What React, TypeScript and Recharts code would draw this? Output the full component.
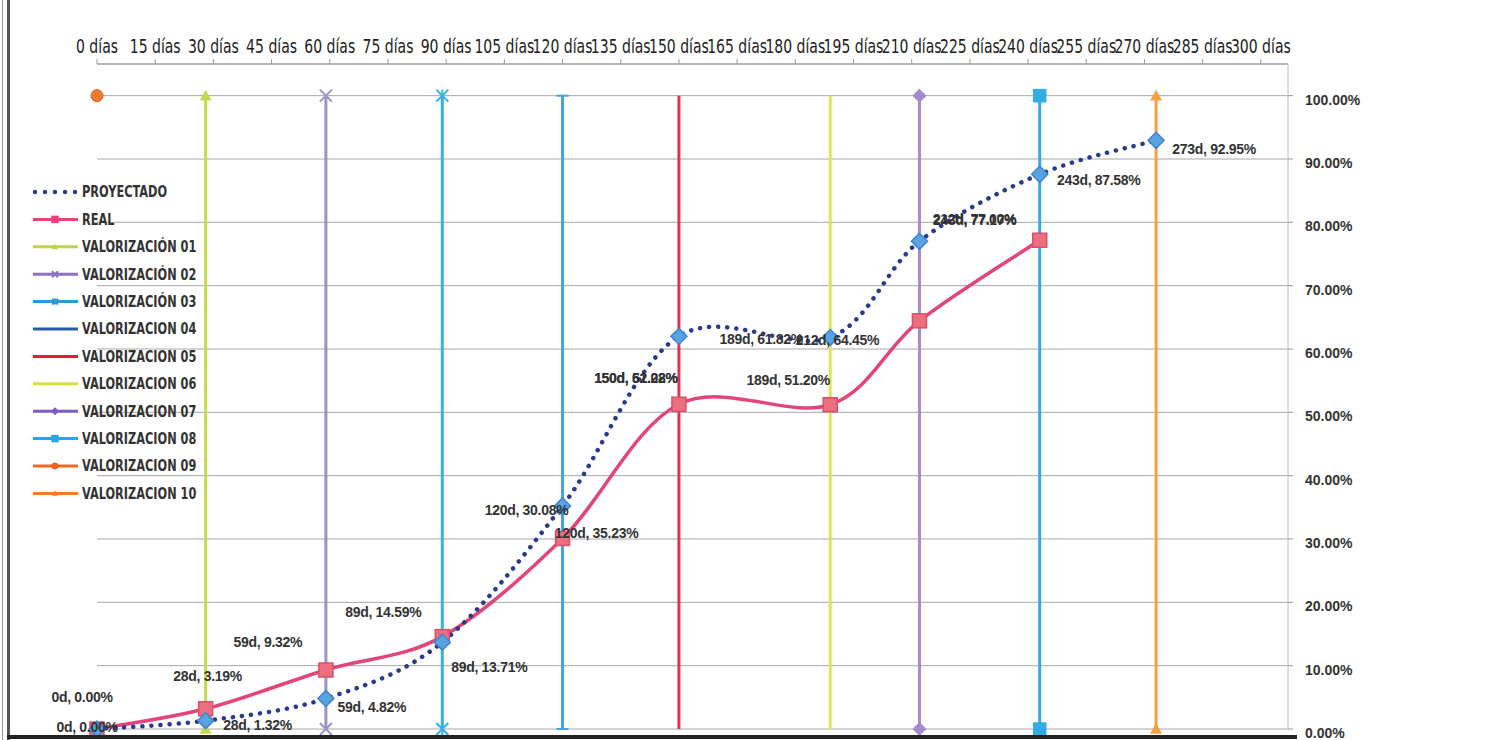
import React from "react"
import {
  CartesianGrid,
  ComposedChart,
  LabelList,
  Legend,
  Line,
  XAxis,
  YAxis,
} from "recharts"

// datos
const dias = [0, 28, 59, 89, 120, 150, 189, 212, 243, 273]
const proyectado = [0.0, 1.32, 4.82, 13.71, 35.23, 62.02, 61.82, 77.0, 87.58, 92.95]
const real = [0.0, 3.19, 9.32, 14.59, 30.08, 51.28, 51.2, 64.45, 77.17]

const xTicks = [0, 15, 30, 45, 60, 75, 90, 105, 120, 135, 150, 165, 180, 195, 210, 225, 240, 255, 270, 285, 300]
const yTicks = [0, 10, 20, 30, 40, 50, 60, 70, 80, 90, 100]

const valorizacionNombres = [
  "VALORIZACIÓN 01",
  "VALORIZACIÓN 02",
  "VALORIZACIÓN 03",
  "VALORIZACION 04",
  "VALORIZACION 05",
  "VALORIZACION 06",
  "VALORIZACION 07",
  "VALORIZACION 08",
  "VALORIZACION 09",
  "VALORIZACION 10",
]
const valorizacionDias = [28, 59, 89, 120, 150, 189, 212, 243, 0, 273]
const valorizacionNiveles = [
  [0, 100], [0, 100], [0, 100], [0, 100], [0, 100],
  [0, 100], [0, 100], [0, 100], [100], [0, 100],
]

// estilos
const valStyles = [
  { color: "#c5da4f", legend: "#bcd448", shape: "triangle" },
  { color: "#9c93c6", legend: "#8a74c4", shape: "x" },
  { color: "#33b3e3", legend: "#2a9ad6", shape: "star" },
  { color: "#47a2dd", legend: "#2c5aa8", shape: "plus" },
  { color: "#e2334f", legend: "#e0203a", shape: "none" },
  { color: "#dbe65a", legend: "#d4e040", shape: "none" },
  { color: "#a38bd0", legend: "#7d5cc4", shape: "diamond" },
  { color: "#33ace6", legend: "#2aa4e8", shape: "square" },
  { color: "#f07a32", legend: "#f06a22", shape: "circle" },
  { color: "#f5a043", legend: "#f07a30", shape: "triangle" },
]

// desplazamiento de etiquetas (px) como en el original
const realLabelOffset = [
  [-15, -32], [2, -33], [-58, -28], [-59, -25], [-36, -28],
  [-43, -26], [-42, -25], [-82, 19], [-65, -20],
]
const proyLabelOffset = [
  [-10, -2], [52, 4], [46, 9], [47, 25], [34, 27],
  [-43, 42], [-69, 2], [55, -22], [59, 6], [58, 9],
]

const narrow = "'DejaVu Sans Condensed', 'Liberation Sans Narrow', 'Arial Narrow', sans-serif"
const sans = "'Liberation Sans', Arial, sans-serif"

const proyData = dias.map((d, i) => ({ dia: d, valor: proyectado[i] }))
const realData = real.map((v, i) => ({ dia: dias[i], valor: v }))
const valData = valorizacionDias.map((d, i) =>
  valorizacionNiveles[i].map((n) => ({ dia: d, valor: n }))
)

// suavizado tipo Excel (catmull-rom 1/6)
function excelCurve(context: any) {
  let pts: number[][] = []
  return {
    areaStart() {},
    areaEnd() {},
    lineStart() {
      pts = []
    },
    lineEnd() {
      const n = pts.length
      if (!n) return
      context.moveTo(pts[0][0], pts[0][1])
      for (let i = 0; i < n - 1; i++) {
        const p0 = pts[Math.max(i - 1, 0)]
        const p1 = pts[i]
        const p2 = pts[i + 1]
        const p3 = pts[Math.min(i + 2, n - 1)]
        context.bezierCurveTo(
          p1[0] + (p2[0] - p0[0]) / 6,
          p1[1] + (p2[1] - p0[1]) / 6,
          p2[0] - (p3[0] - p1[0]) / 6,
          p2[1] - (p3[1] - p1[1]) / 6,
          p2[0],
          p2[1]
        )
      }
    },
    point(x: number, y: number) {
      pts.push([+x, +y])
    },
  }
}

function Marker(props: { shape: string; cx: number; cy: number; color: string; r?: number; stroke?: string }) {
  const { shape, cx, cy, color } = props
  const r = props.r ?? 5
  const stroke = props.stroke ?? color
  switch (shape) {
    case "square":
      return <rect x={cx - r} y={cy - r} width={r * 2} height={r * 2} fill={color} stroke={stroke} strokeWidth={1.5} />
    case "diamond":
      return (
        <polygon
          points={`${cx},${cy - r} ${cx + r},${cy} ${cx},${cy + r} ${cx - r},${cy}`}
          fill={color}
          stroke={stroke}
          strokeWidth={1.5}
        />
      )
    case "triangle":
      return (
        <polygon
          points={`${cx},${cy - r} ${cx + r},${cy + r * 0.8} ${cx - r},${cy + r * 0.8}`}
          fill={color}
        />
      )
    case "circle":
      return <circle cx={cx} cy={cy} r={r} fill={color} stroke="#d85a20" strokeWidth={1} />
    case "x":
      return (
        <g stroke={color} strokeWidth={2}>
          <line x1={cx - r} y1={cy - r} x2={cx + r} y2={cy + r} />
          <line x1={cx - r} y1={cy + r} x2={cx + r} y2={cy - r} />
        </g>
      )
    case "star":
      return (
        <g stroke={color} strokeWidth={2}>
          <line x1={cx - r} y1={cy - r} x2={cx + r} y2={cy + r} />
          <line x1={cx - r} y1={cy + r} x2={cx + r} y2={cy - r} />
          <line x1={cx} y1={cy - r} x2={cx} y2={cy + r} />
        </g>
      )
    case "plus":
      return (
        <g stroke={color} strokeWidth={2}>
          <line x1={cx - r} y1={cy} x2={cx + r} y2={cy} />
        </g>
      )
    default:
      return null
  }
}

function makeLabel(offsets: number[][], serie: number[]) {
  return (p: any) => {
    const i = p.index
    const o = offsets[i] || [0, 0]
    return (
      <text
        x={p.x + o[0]}
        y={p.y + o[1]}
        textAnchor="middle"
        dominantBaseline="central"
        fontFamily={sans}
        fontWeight="bold"
        fontSize={14}
        fill="#333"
        letterSpacing={-0.3}
      >
        {`${dias[i]}d, ${serie[i].toFixed(2)}%`}
      </text>
    )
  }
}

// etiqueta estrecha del eje de dias
function DiaTick(p: any) {
  return (
    <text
      transform={`translate(${p.x},${p.y}) scale(0.82,1)`}
      textAnchor="middle"
      fontFamily={narrow}
      fontSize={19}
      fill="#222"
    >
      {`${p.payload.value} días`}
    </text>
  )
}

const legendItems = [
  { name: "PROYECTADO", color: "#2b3a8c", shape: "dots" },
  { name: "REAL", color: "#e2457a", shape: "square" },
  ...valorizacionNombres.map((n, i) => ({ name: n, color: valStyles[i].legend, shape: valStyles[i].shape })),
]

function LeyendaCurva() {
  return (
    <svg width={200} height={330}>
      {legendItems.map((it, i) => {
        const y = 14 + i * 27.4
        return (
          <g key={it.name}>
            {it.shape === "dots" ? (
              [0, 1, 2, 3, 4].map((k) => <circle key={k} cx={5 + k * 10} cy={y} r={2.2} fill={it.color} />)
            ) : (
              <>
                <line x1={3} y1={y} x2={48} y2={y} stroke={it.color} strokeWidth={3} />
                <Marker shape={it.shape} cx={25} cy={y} color={it.color} r={3} />
              </>
            )}
            <text
              transform={`translate(52,${y}) scale(0.84,1)`}
              dominantBaseline="central"
              fontFamily={narrow}
              fontWeight="bold"
              fontSize={15}
              fill="#333"
            >
              {it.name}
            </text>
          </g>
        )
      })}
    </svg>
  )
}

export default function App() {
  return (
    <div style={{ position: "absolute", left: 0, top: 0, width: 1509, height: 740, background: "#fff", overflow: "hidden" }}>
      <ComposedChart width={1509} height={740} margin={{ top: 0, right: 141, bottom: 11, left: 97 }}>
        <CartesianGrid vertical={false} stroke="#a8a8a8" />
        <XAxis
          type="number"
          dataKey="dia"
          orientation="top"
          domain={[0, 307]}
          ticks={xTicks}
          interval={0}
          height={64}
          tick={<DiaTick />}
          axisLine={{ stroke: "#999" }}
          tickLine={{ stroke: "#999" }}
          tickSize={5}
          tickMargin={6}
        />
        <YAxis
          type="number"
          orientation="right"
          domain={[0, 105]}
          ticks={yTicks}
          interval={0}
          width={80}
          tickFormatter={(v) => `${v.toFixed(2)}%`}
          tick={{ fontFamily: sans, fontSize: 14, fontWeight: "bold", fill: "#333", dy: 4 }}
          axisLine={{ stroke: "#bbb" }}
          tickLine={{ stroke: "#999" }}
          tickSize={5}
          tickMargin={12}
        />
        <Legend
          layout="vertical"
          align="center"
          verticalAlign="middle"
          content={() => <LeyendaCurva />}
          wrapperStyle={{ left: 30, top: 178, width: 200, height: 330 }}
        />
        {valData.map((d, i) => (
          <Line
            key={valorizacionNombres[i]}
            data={d}
            dataKey="valor"
            name={valorizacionNombres[i]}
            stroke={valStyles[i].color}
            strokeWidth={3}
            isAnimationActive={false}
            dot={(p: any) => (
              <g key={`v${i}-${p.index}`}>
                <Marker shape={valStyles[i].shape} cx={p.cx} cy={p.cy} color={valStyles[i].color} r={6} />
              </g>
            )}
          />
        ))}
        <Line
          data={realData}
          dataKey="valor"
          name="REAL"
          type={excelCurve as any}
          stroke="#e2457a"
          strokeWidth={3.5}
          isAnimationActive={false}
          dot={(p: any) => (
            <g key={`r-${p.index}`}>
              <Marker shape="square" cx={p.cx} cy={p.cy} color="#ec6f80" stroke="#d9506a" r={7} />
            </g>
          )}
        >
          <LabelList dataKey="valor" content={makeLabel(realLabelOffset, real)} />
        </Line>
        <Line
          data={proyData}
          dataKey="valor"
          name="PROYECTADO"
          type={excelCurve as any}
          stroke="#2b3a8c"
          strokeWidth={4.5}
          strokeDasharray="0.1 9"
          strokeLinecap="round"
          isAnimationActive={false}
          dot={(p: any) => (
            <g key={`p-${p.index}`}>
              <Marker shape="diamond" cx={p.cx} cy={p.cy} color="#5aa2e2" stroke="#3d86cc" r={8} />
            </g>
          )}
        >
          <LabelList dataKey="valor" content={makeLabel(proyLabelOffset, proyectado)} />
        </Line>
      </ComposedChart>
      <div style={{ position: "absolute", left: 7, top: 0, width: 3, height: 740, background: "#555" }} />
      <div style={{ position: "absolute", left: 2, top: 0, width: 1, height: 740, background: "#8a8fd0" }} />
      <div style={{ position: "absolute", left: 7, top: 735, width: 1290, height: 4, background: "#222" }} />
    </div>
  )
}
